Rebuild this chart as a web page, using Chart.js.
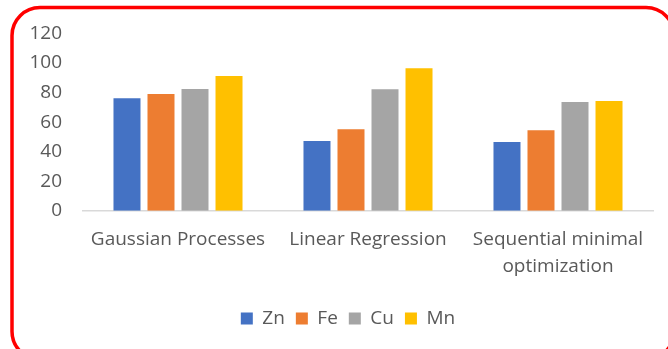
<!DOCTYPE html>
<html>
<head>
<meta charset="utf-8">
<script src="https://cdn.jsdelivr.net/npm/chart.js@4/dist/chart.umd.min.js"></script>
<style>
  html, body { margin: 0; padding: 0; background: #ffffff; }
  #wrap { width: 668px; height: 349px; position: relative; }
</style>
</head>
<body>
<div id="wrap"><canvas id="chart" width="668" height="349"></canvas></div>
<script>
// Model categories and element series
const categories = ['Gaussian Processes', 'Linear Regression', ['Sequential minimal', 'optimization']];
const zn = [76.1, 47.2, 46.5];
const fe = [79.0, 55.1, 54.4];
const cu = [82.4, 82.2, 73.6];
const mn = [91.2, 96.4, 74.3];
const yTicks = [0, 20, 40, 60, 80, 100, 120];

const labelColor = '#595959';
const fontFamily = '"Open Sans", "Noto Sans", sans-serif';

// Rounded red frame around the whole chart
const framePlugin = {
  id: 'frame',
  afterDraw(chart) {
    const ctx = chart.ctx;
    ctx.save();
    ctx.strokeStyle = '#ff0000';
    ctx.lineWidth = 3.5;
    ctx.beginPath();
    ctx.roundRect(12, 7.5, 662, 352, 28);
    ctx.stroke();
    ctx.restore();
  }
};

// Nudge the legend row to the right so it sits under the middle of the frame
const legendShift = {
  id: 'legendShift',
  afterLayout(chart) {
    if (chart.legend) {
      chart.legend.left += 21.5;
      chart.legend.right += 21.5;
    }
  }
};

new Chart(document.getElementById('chart'), {
  type: 'bar',
  data: {
    labels: categories,
    datasets: [
      { label: 'Zn', data: zn, backgroundColor: '#4472C4' },
      { label: 'Fe', data: fe, backgroundColor: '#ED7D31' },
      { label: 'Cu', data: cu, backgroundColor: '#A5A5A5' },
      { label: 'Mn', data: mn, backgroundColor: '#FFC000' }
    ]
  },
  options: {
    responsive: false,
    animation: false,
    events: [],
    datasets: {
      bar: { categoryPercentage: 0.716, barPercentage: 0.794, borderWidth: 0 }
    },
    layout: { padding: { left: 0, right: 15, top: 33.5, bottom: 11 } },
    plugins: {
      tooltip: { enabled: false },
      legend: {
        position: 'bottom',
        labels: {
          boxWidth: 12,
          boxHeight: 12,
          padding: 11,
          color: labelColor,
          font: { family: fontFamily, size: 19 }
        }
      }
    },
    scales: {
      x: {
        grid: { display: false, drawTicks: false },
        border: { display: true, color: '#d9d9d9', width: 1.5 },
        ticks: {
          color: labelColor,
          padding: 16,
          maxRotation: 0,
          autoSkip: false,
          font: { family: fontFamily, size: 19, lineHeight: 1.4 }
        },
        afterFit(s) { s.height = 87.3; s.paddingLeft = 0; s.paddingRight = 0; }
      },
      y: {
        min: 0,
        max: 120,
        afterBuildTicks(s) { s.ticks = yTicks.map(v => ({ value: v })); },
        grid: { display: false, drawTicks: false },
        border: { display: false },
        ticks: {
          color: labelColor,
          padding: 21,
          font: { family: fontFamily, size: 19 }
        },
        afterFit(s) { s.width = 83; s.paddingTop = 0; s.paddingBottom = 0; }
      }
    }
  },
  plugins: [framePlugin, legendShift]
});
</script>
</body>
</html>
